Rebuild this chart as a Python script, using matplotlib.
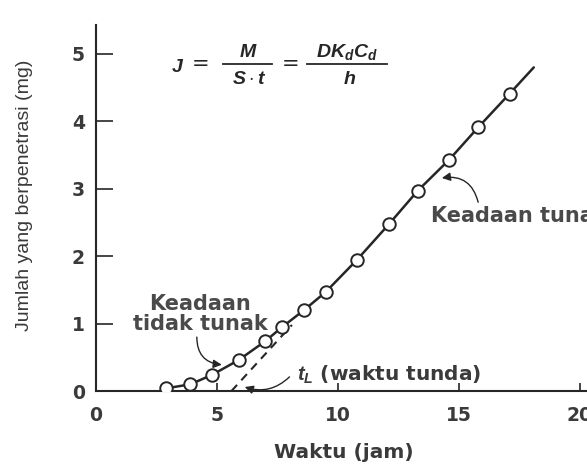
import numpy as np
import matplotlib
matplotlib.use("Agg")
import matplotlib.pyplot as plt
from matplotlib.lines import Line2D

# data
waktu = [2.9, 3.9, 4.8, 5.9, 7.0, 7.7, 8.6, 9.5, 10.8, 12.1, 13.3, 14.6, 15.8, 17.1]
jumlah = [0.04, 0.10, 0.24, 0.46, 0.74, 0.95, 1.20, 1.47, 1.95, 2.47, 2.97, 3.43, 3.91, 4.41]
line_end = (18.1, 4.80)
t_lag = 5.6
lag_end = (8.1, 0.98)
x_ticks = [0, 5, 10, 15, 20]
y_ticks = [0, 1, 2, 3, 4, 5]

ink = "#262626"
txt = "#3a3a3a"
W, H = 587, 470

plt.rcParams["font.family"] = ["DejaVu Sans"]
plt.rcParams["mathtext.fontset"] = "custom"
plt.rcParams["mathtext.it"] = "Liberation Sans:italic:bold"
plt.rcParams["mathtext.rm"] = "Liberation Sans"

fig = plt.figure(figsize=(5.87, 4.70), dpi=100)
ax = fig.add_axes([0.1635, 0.168, 0.8365, 0.779])

# curve + extension to the end
lx = waktu + [line_end[0]]
ly = jumlah + [line_end[1]]
ax.plot(lx, ly, color=ink, lw=1.8, solid_capstyle="round", zorder=2)
ax.plot(waktu, jumlah, "o", ms=9, mfc="white", mec=ink, mew=1.4, zorder=3)
# lag-time extrapolation
ax.plot([t_lag, lag_end[0]], [0, lag_end[1]], color=ink, lw=1.5,
        linestyle=(0, (4, 3)), zorder=1)

ax.set_xlim(0, 20.3)
ax.set_ylim(0, 5.43)
ax.set_xticks(x_ticks)
ax.set_yticks(y_ticks)
for s in ["top", "right"]:
    ax.spines[s].set_visible(False)
for s in ["left", "bottom"]:
    ax.spines[s].set_color(ink)
    ax.spines[s].set_linewidth(1.5)
ax.tick_params(axis="x", direction="in", length=6, width=1.2, pad=11, colors=ink,
               labelsize=13.5, labelcolor=txt)
ax.tick_params(axis="y", direction="in", length=12, width=1.2, pad=8, colors=ink,
               labelsize=13.5, labelcolor=txt)
for lab in ax.get_xticklabels() + ax.get_yticklabels():
    lab.set_fontweight("bold")

fig.text(344 / W, 1 - 452 / H, "Waktu (jam)", ha="center", va="center",
         fontsize=14.5, fontweight="bold", color=txt)
fig.text(25 / W, 1 - 195 / H, "Jumlah yang berpenetrasi (mg)", rotation=90,
         ha="center", va="center", fontsize=14, color=txt,
         family=["Liberation Sans Narrow", "Liberation Sans", "DejaVu Sans"])

# flux equation, laid out piece by piece (pixel positions from the scan)
def eq(x, y, s, size=14):
    fig.text(x / W, 1 - y / H, s, ha="center", va="center", fontsize=size, color=ink)

def bar(x0, x1, y):
    fig.add_artist(Line2D([x0 / W, x1 / W], [1 - y / H, 1 - y / H], color=ink, lw=1.3))

eq(178, 66, r"$J$")
eq(201, 64, "=", 15)
bar(223, 272, 64)
eq(248, 52, r"$M$")
eq(249, 78, r"$S\cdot t$")
eq(291, 64, "=", 15)
bar(307, 387, 64)
eq(347, 52, r"$DK_dC_d$")
eq(350, 78, r"$h$")

ax.text(13.84, 2.6, "Keadaan tunak", ha="left", va="center", fontsize=15,
        fontweight="bold", color="#4a4a4a", clip_on=False)
ax.text(4.3, 1.14, "Keadaan\ntidak tunak", ha="center", va="center", fontsize=15,
        fontweight="bold", color="#4a4a4a", linespacing=1.0)
ax.text(8.3, 0.24, r"$t_L$ (waktu tunda)", ha="left", va="center", fontsize=14.5,
        fontweight="bold", color="#3a3a3a")

arrow = dict(arrowstyle="-|>,head_length=0.5,head_width=0.25", color=ink, lw=1.0,
             shrinkA=0, shrinkB=0)
ax.annotate("", xy=(14.3, 3.16), xytext=(15.8, 2.8),
            arrowprops=dict(arrow, connectionstyle="arc3,rad=0.45"))
ax.annotate("", xy=(5.2, 0.39), xytext=(4.17, 0.80),
            arrowprops=dict(arrow, connectionstyle="arc3,rad=0.45"))
ax.annotate("", xy=(6.15, 0.06), xytext=(8.0, 0.21),
            arrowprops=dict(arrow, connectionstyle="arc3,rad=-0.3"))

fig.savefig("out.png", dpi=100)
